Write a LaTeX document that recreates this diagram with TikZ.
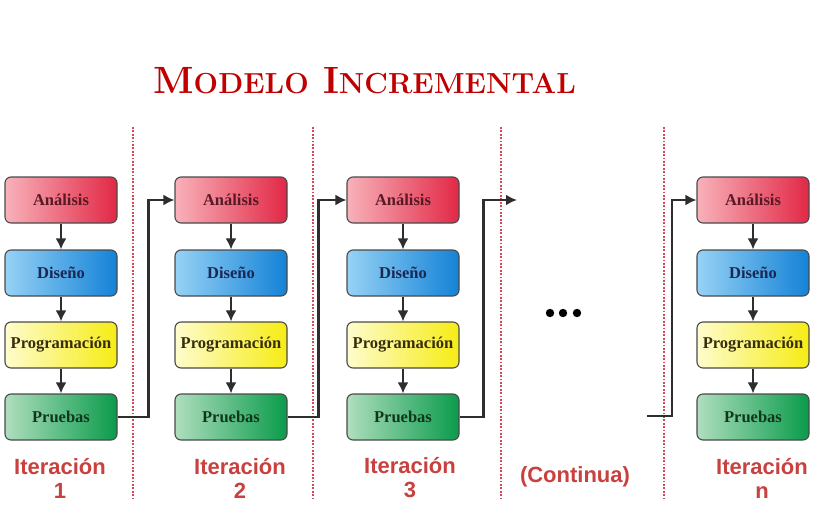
\documentclass[tikz,border=0pt]{standalone}
\usepackage{fontspec}
\newfontfamily\boxfont{Liberation Serif}
\newfontfamily\labfont{Liberation Sans}
\usetikzlibrary{arrows.meta,calc}
\definecolor{titlered}{HTML}{C00000}
\definecolor{labred}{HTML}{C8413F}
\definecolor{dotred}{HTML}{D8485A}
\definecolor{arrgray}{HTML}{2E2E2E}
\definecolor{bordergray}{HTML}{4A4A4A}
\begin{document}
\begin{tikzpicture}[x=1pt,y=-1pt,
  phase/.style={draw=bordergray, line width=1.1pt, rounded corners=6pt,
    minimum width=112pt, minimum height=46pt, inner sep=0pt,
    font=\boxfont\bfseries\fontsize{16.5}{18}\selectfont},
  ana/.style={phase, left color={rgb,255:red,248;green,178;blue,186}, right color={rgb,255:red,226;green,40;blue,70}, text={rgb,255:red,90;green,25;blue,35}},
  dis/.style={phase, left color={rgb,255:red,150;green,210;blue,245}, right color={rgb,255:red,20;green,130;blue,215}, text={rgb,255:red,25;green,40;blue,85}},
  pro/.style={phase, left color={rgb,255:red,254;green,252;blue,205}, right color={rgb,255:red,246;green,236;blue,20}, text={rgb,255:red,55;green,45;blue,10}},
  pru/.style={phase, left color={rgb,255:red,175;green,222;blue,190}, right color={rgb,255:red,10;green,155;blue,75}, text={rgb,255:red,15;green,55;blue,30}},
  arr/.style={draw=arrgray, line width=2.4pt, -{Latex[length=11pt,width=11pt]}},
  sep/.style={draw=dotred, line width=2pt, dash pattern=on 1.8pt off 1.6pt},
  lab/.style={text=labred, font=\labfont\bfseries\fontsize{22}{24}\selectfont, align=center}
]
\useasboundingbox[fill=white] (0,0) rectangle (817,528);

% title
\node[anchor=base west, inner sep=0pt, text=titlered, font=\bfseries] (title) at (153,93)
  {\fontsize{38}{40}\selectfont M{\fontsize{29}{30}\selectfont ODELO} I{\fontsize{29}{30}\selectfont NCREMENTAL}};

% separators
\foreach \x/\n in {133/s1,313/s2,501/s3,664/s4}{
  \coordinate (\n t) at (\x,127);
  \coordinate (\n b) at (\x,500);
  \draw[sep] (\n t) -- (\n b);
}

% columns
\foreach \c/\x in {1/61,2/231,3/403,4/753}{
  \node[ana] (a\c) at (\x,200) {Análisis};
  \node[dis] (d\c) at (\x,273) {Diseño};
  \node[pro] (g\c) at (\x,345) {Programación};
  \node[pru] (p\c) at (\x,417) {Pruebas};
  \draw[arr] (a\c) -- (d\c);
  \draw[arr] (d\c) -- (g\c);
  \draw[arr] (g\c) -- (p\c);
}

% links between iterations
\draw[arr] (p1.east) -- ++(31,0) |- (a2.west);
\draw[arr] (p2.east) -- ++(31,0) |- (a3.west);
\coordinate (cont) at (517,200);
\draw[arr] (p3.east) -- ++(24,0) |- (cont);
\coordinate (inc) at (647,416);
\draw[arr] (inc) -- ++(25,0) |- (a4.west);

% dots
\foreach \x in {550,563,577} \fill[black] (\x,313) circle (4.2);

% labels
\node[lab] (l1) at (60,478) {Iteración\\1};
\node[lab] (l2) at (240,478) {Iteración\\2};
\node[lab] (l3) at (410,478) {Iteración\\3};
\node[lab] (l4) at (575,477) {(Continua)};
\node[lab] (l5) at (762,478) {Iteración\\n};
\end{tikzpicture}
\end{document}
